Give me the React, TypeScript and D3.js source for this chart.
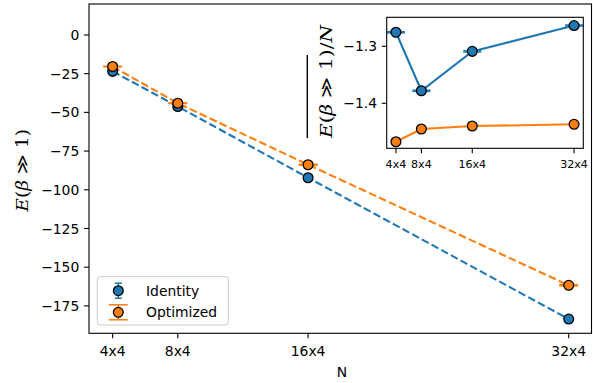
import React from "react";
import * as d3 from "d3";

// Lattice sizes and their labels
const latticeLabels = ["4x4", "8x4", "16x4", "32x4"];
const latticeSites = [16, 32, 64, 128];

// Total energy E(β≫1) for each lattice
const identityEnergy = [-23.5, -46.2, -92.2, -183.5];
const identityErr = [0.2, 0.3, 0.4, 0.5];
const optimizedEnergy = [-20.4, -44.1, -83.8, -161.7];
const optimizedErr = [0.15, 0.2, 0.3, 0.4];

// Energy per site shown in the inset
const insetUpper = [-1.2753, -1.378, -1.3088, -1.2635];
const insetUpperErr = [0.001, 0.001, 0.001, 0.001];
const insetLower = [-1.4675, -1.4451, -1.4399, -1.4369];

const mainYTicks = [0, -25, -50, -75, -100, -125, -150, -175];
const insetYTicks = [-1.3, -1.4];

const C0 = "#1f77b4";
const C1 = "#ff7f0e";
const SANS = "DejaVu Sans, sans-serif";
const SERIF = "DejaVu Serif, serif";

const W = 593;
const H = 383;

// main axes box
const M = { left: 89, right: 591.5, top: 4, bottom: 333.3 };
// inset axes box
const I = { left: 386.7, right: 583.3, top: 17.3, bottom: 148.3 };

const MARKER_R = 4.9;

function MathLabel({ x, y, length, withN, size }: { x: number; y: number; length: number; withN: boolean; size: number }) {
  return (
    <text
      transform={`translate(${x},${y}) rotate(-90)`}
      textAnchor="middle"
      fontFamily={SERIF}
      fontSize={size}
      textLength={length}
      lengthAdjust="spacingAndGlyphs"
      fill="#000"
    >
      <tspan fontStyle="italic">E</tspan>
      <tspan>(</tspan>
      <tspan fontStyle="italic">β</tspan>
      <tspan> ≫ 1)</tspan>
      {withN ? <tspan>/</tspan> : null}
      {withN ? <tspan fontStyle="italic">N</tspan> : null}
    </text>
  );
}

export default function App() {
  const x = d3.scaleLinear().domain([10.2, 133.6]).range([M.left, M.right]);
  const y = d3.scaleLinear().domain([-192.7, 20]).range([M.bottom, M.top]);

  const xi = d3.scaleLinear().domain([10.2, 133.8]).range([I.left, I.right]);
  const yi = d3.scaleLinear().domain([-1.479, -1.249]).range([I.bottom, I.top]);

  const mainLine = (vals: number[]) =>
    d3.line<number>().x((_, i) => x(latticeSites[i])).y((v) => y(v))(vals) as string;
  const insetLine = (vals: number[]) =>
    d3.line<number>().x((_, i) => xi(latticeSites[i])).y((v) => yi(v))(vals) as string;

  const errorBars = (
    vals: number[],
    errs: number[],
    sx: (v: number) => number,
    sy: (v: number) => number,
    color: string,
    cap: number,
    key: string
  ) =>
    vals.map((v, i) => {
      const cx = sx(latticeSites[i]);
      const y1 = sy(v - errs[i]);
      const y2 = sy(v + errs[i]);
      return (
        <g key={`${key}-${i}`} stroke={color} strokeWidth={1.5}>
          <line x1={cx} x2={cx} y1={y1} y2={y2} />
          <line x1={cx - cap} x2={cx + cap} y1={y1} y2={y1} />
          <line x1={cx - cap} x2={cx + cap} y1={y2} y2={y2} />
        </g>
      );
    });

  const markers = (
    vals: number[],
    sx: (v: number) => number,
    sy: (v: number) => number,
    color: string,
    key: string
  ) =>
    vals.map((v, i) => (
      <circle
        key={`${key}-${i}`}
        cx={sx(latticeSites[i])}
        cy={sy(v)}
        r={MARKER_R}
        fill={color}
        stroke="#000"
        strokeWidth={1.3}
      />
    ));

  return (
    <svg width={W} height={H} style={{ position: "absolute", left: 0, top: 0 }}>
      <rect x={0} y={0} width={W} height={H} fill="#fff" />

      {/* main axes */}
      <g>
        <path d={mainLine(identityEnergy)} fill="none" stroke={C0} strokeWidth={2.1} strokeDasharray="7.7 3.3" />
        <path d={mainLine(optimizedEnergy)} fill="none" stroke={C1} strokeWidth={2.1} strokeDasharray="7.7 3.3" />
        {errorBars(identityEnergy, identityErr, x, y, C0, 3.6, "ie")}
        {markers(identityEnergy, x, y, C0, "im")}
        {errorBars(optimizedEnergy, optimizedErr, x, y, C1, 9.5, "oe")}
        {markers(optimizedEnergy, x, y, C1, "om")}

        <rect
          x={M.left}
          y={M.top}
          width={M.right - M.left}
          height={M.bottom - M.top}
          fill="none"
          stroke="#000"
          strokeWidth={1.1}
        />

        {mainYTicks.map((t) => (
          <g key={`my${t}`}>
            <line x1={M.left - 4.9} x2={M.left} y1={y(t)} y2={y(t)} stroke="#000" strokeWidth={1.1} />
            <text x={M.left - 9.7} y={y(t) + 5.07} textAnchor="end" fontFamily={SANS} fontSize={13.9}>
              {t < 0 ? `−${Math.abs(t)}` : `${t}`}
            </text>
          </g>
        ))}
        {latticeSites.map((n, i) => (
          <g key={`mx${n}`}>
            <line x1={x(n)} x2={x(n)} y1={M.bottom} y2={M.bottom + 4.9} stroke="#000" strokeWidth={1.1} />
            <text x={x(n)} y={355.8} textAnchor="middle" fontFamily={SANS} fontSize={13.9}>
              {latticeLabels[i]}
            </text>
          </g>
        ))}
        <text x={342} y={376.8} textAnchor="middle" fontFamily={SANS} fontSize={13.9}>
          N
        </text>
        <MathLabel x={27.5} y={170.3} length={82.7} withN={false} size={17} />

        {/* legend */}
        <rect x={97.3} y={276.7} width={131} height={48.3} rx={3} ry={3} fill="#fff" fillOpacity={0.8} stroke="#cccccc" strokeWidth={1} />
        <g stroke={C0} strokeWidth={1.5}>
          <line x1={118.3} x2={118.3} y1={283.2} y2={298.2} />
          <line x1={114.7} x2={121.9} y1={283.2} y2={283.2} />
          <line x1={114.7} x2={121.9} y1={298.2} y2={298.2} />
        </g>
        <circle cx={118.3} cy={290.7} r={MARKER_R} fill={C0} stroke="#000" strokeWidth={1.3} />
        <g stroke={C1} strokeWidth={1.5}>
          <line x1={118.3} x2={118.3} y1={304.8} y2={319.8} />
          <line x1={108.8} x2={127.8} y1={304.8} y2={304.8} />
          <line x1={108.8} x2={127.8} y1={319.8} y2={319.8} />
        </g>
        <circle cx={118.3} cy={312.3} r={MARKER_R} fill={C1} stroke="#000" strokeWidth={1.3} />
        <text x={146} y={295.7} fontFamily={SANS} fontSize={13.9}>Identity</text>
        <text x={146} y={317.2} fontFamily={SANS} fontSize={13.9}>Optimized</text>
      </g>

      {/* inset axes */}
      <g>
        <rect x={I.left} y={I.top} width={I.right - I.left} height={I.bottom - I.top} fill="#fff" />
        <path d={insetLine(insetUpper)} fill="none" stroke={C0} strokeWidth={2.1} />
        {errorBars(insetUpper, insetUpperErr, xi, yi, C0, 9, "ue")}
        {markers(insetUpper, xi, yi, C0, "um")}
        <path d={insetLine(insetLower)} fill="none" stroke={C1} strokeWidth={2.1} />
        {markers(insetLower, xi, yi, C1, "lm")}
        <rect
          x={I.left}
          y={I.top}
          width={I.right - I.left}
          height={I.bottom - I.top}
          fill="none"
          stroke="#000"
          strokeWidth={1.1}
        />
        {insetYTicks.map((t) => (
          <g key={`iy${t}`}>
            <line x1={I.left - 4.9} x2={I.left} y1={yi(t)} y2={yi(t)} stroke="#000" strokeWidth={1.1} />
            <text x={I.left - 9.7} y={yi(t) + 5.07} textAnchor="end" fontFamily={SANS} fontSize={13.9}>
              {`−${Math.abs(t).toFixed(1)}`}
            </text>
          </g>
        ))}
        {latticeSites.map((n, i) => (
          <g key={`ix${n}`}>
            <line x1={xi(n)} x2={xi(n)} y1={I.bottom} y2={I.bottom + 4.9} stroke="#000" strokeWidth={1.1} />
            <text x={xi(n)} y={168.3} textAnchor="middle" fontFamily={SANS} fontSize={11.1}>
              {latticeLabels[i]}
            </text>
          </g>
        ))}
        <MathLabel x={331.8} y={81.5} length={113} withN={true} size={17} />
        <line x1={307.3} x2={307.3} y1={55} y2={138} stroke="#000" strokeWidth={1.4} />
      </g>
    </svg>
  );
}
